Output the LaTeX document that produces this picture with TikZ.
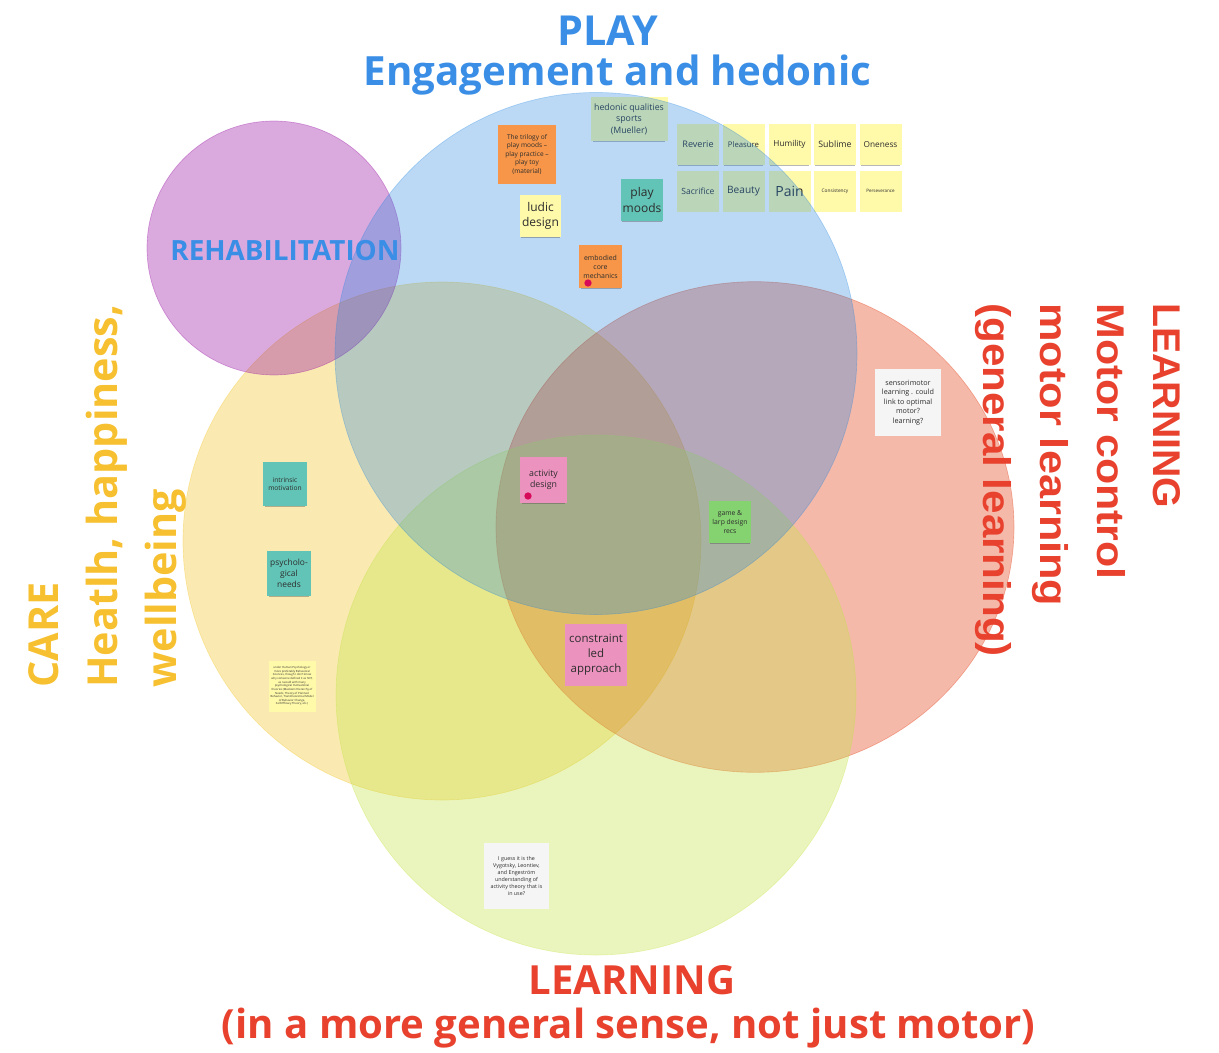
\documentclass[tikz,border=0pt]{standalone}
\usepackage{fontspec}
\setmainfont{Open Sans}
\newfontfamily\arialfam{Liberation Sans}
\usetikzlibrary{shadows}

% circle colours (drawn semi-transparent)
\definecolor{cblue}{RGB}{30,130,222}
\definecolor{cyellow}{RGB}{241,195,35}
\definecolor{cred}{RGB}{226,55,12}
\definecolor{cgreen}{RGB}{195,227,69}
\definecolor{cpurple}{RGB}{149,12,161}
% text colours
\definecolor{tblue}{RGB}{58,142,230}
\definecolor{tyellow}{RGB}{246,192,48}
\definecolor{tred}{RGB}{232,66,46}
\definecolor{notetext}{RGB}{45,45,45}
% sticky note colours
\definecolor{nyellow}{RGB}{255,249,170}
\definecolor{norange}{RGB}{247,150,72}
\definecolor{nteal}{RGB}{98,196,182}
\definecolor{npink}{RGB}{236,146,190}
\definecolor{ngreen}{RGB}{133,210,112}
\definecolor{nwhite}{RGB}{245,245,245}
\definecolor{dotred}{RGB}{215,10,90}

\tikzset{
  zone/.style={fill=#1, fill opacity=0.35, draw=#1, draw opacity=0.35, line width=0.5pt},
  note/.style={fill=#1, inner sep=1pt, align=center, text=notetext,
    drop shadow={shadow xshift=0pt, shadow yshift=-1.8pt, shadow scale=0.93, opacity=0.4, fill=black!70}},
  sz/.style 2 args={minimum width=#1*0.75pt, minimum height=#2*0.75pt},
  fs/.style={font=\linespread{1.3}\fontsize{#1}{#1}\selectfont},
  dot/.style={circle, fill=dotred, inner sep=0pt, minimum size=5.5pt},
  bigtitle/.style={font=\bfseries\fontsize{31}{36}\selectfont, inner sep=0pt},
  sidetitle/.style={font=\arialfam\bfseries\fontsize{29}{34}\selectfont, text=tred, inner sep=0pt},
}

\begin{document}
\begin{tikzpicture}[x=0.75pt,y=-0.75pt]
\useasboundingbox (0,0) rectangle (1219,1052);

% ---- lower circles ----
\path[zone=cyellow] (442,541) circle [radius=194.25pt];
\path[zone=cred] (755,527) ellipse [x radius=194.25pt, y radius=184pt];
\path[zone=cgreen] (596,695) circle [radius=195pt];
\path[zone=cpurple] (274,248) circle [radius=95.25pt];

% ---- notes lying under the PLAY circle ----
\node[note=nyellow, sz={77}{44}, fs=6.6] (hed) at (629,119) {hedonic qualities\\sports\\(Mueller)};

\node[note=nyellow, sz={42}{41}, fs=6.8] (g11) at (698,144.5) {Reverie};
\node[note=nyellow, sz={42}{41}, fs=5.8] (g12) at (743.5,144.5) {Pleasure};
\node[note=nyellow, sz={42}{41}, fs=6.2] (g13) at (789.5,144.5) {Humility};
\node[note=nyellow, sz={42}{41}, fs=6.6] (g14) at (835,144.5) {Sublime};
\node[note=nyellow, sz={42}{41}, fs=6.2] (g15) at (880.5,144.5) {Oneness};
\node[note=nyellow, sz={42}{41}, fs=6.4] (g21) at (698,191) {Sacrifice};
\node[note=nyellow, sz={42}{41}, fs=7.6] (g22) at (743.5,191) {Beauty};
\node[note=nyellow, sz={42}{41}, fs=10.5] (g23) at (789.5,191) {Pain};
\node[note=nyellow, sz={42}{41}, fs=3.6] (g24) at (835,191) {Consistency};
\node[note=nyellow, sz={42}{41}, fs=3.4] (g25) at (880.5,191) {Perseverance};

% ---- PLAY circle ----
\path[zone=cblue, fill opacity=0.3, draw opacity=0.3] (596,353.5) ellipse [x radius=195.75pt, y radius=195.75pt];

% ---- notes on top ----
\node[note=norange, sz={58}{59}, fs=4.9] (tri) at (527,154.5) {The trilogy of\\play moods --\\play practice --\\play toy\\(material)};
\node[note=nyellow, sz={41}{42}, fs=9] (ludic) at (540.5,216) {ludic\\design};
\node[note=nteal, sz={42}{42}, fs=9] (moods) at (642,200) {play\\moods};
\node[note=norange, sz={43}{43}, fs=5.2] (emb) at (600.5,266.5) {embodied\\core\\mechanics};
\node[dot] (embdot) at (588,283) {};

\node[note=nwhite, sz={66}{67}, fs=5.4] (sens) at (908,402.5) {sensorimotor\\learning . could\\link to optimal\\motor?\\learning?};

\node[note=nteal, sz={44}{44}, fs=5] (intr) at (285,484) {intrinsic\\motivation};
\node[note=nteal, sz={44}{45}, fs=6.3] (psy) at (289,573.5) {psycholo-\\gical\\needs};

\node[note=nyellow, sz={47}{51}, font=\linespread{1.3}\fontsize{2.1}{2.1}\selectfont] (sdt) at (292,686) {under Human Psychology or\\more preferably Behavioral\\Sciences, though I don't know\\why someone defined it as SDT,\\as I would with many\\psychological motivational\\theories (Maslow's Hierarchy of\\Needs, Theory of Planned\\Behavior, Transtheoretical Model\\of Behavior Change,\\Self-Efficacy Theory, etc.)};

\node[note=npink, sz={47}{46}, fs=6.6] (act) at (543.5,480) {activity\\design};
\node[dot] (actdot) at (528,496) {};

\node[note=ngreen, sz={42}{42}, fs=5.1] (game) at (730,522) {game \&\\larp design\\recs};

\node[note=npink, sz={62}{62}, fs=8.6] (cla) at (596,655) {constraint\\led\\approach};

\node[note=nwhite, sz={65}{66}, fs=4] (vyg) at (516.5,876) {I guess it is the\\Vygotsky, Leontiev,\\and Engestr\"om\\understanding of\\activity theory that is\\in use?};

% ---- headings ----
\node[bigtitle, text=tblue, anchor=base] (play) at (608,46) {PLAY};
\node[bigtitle, font=\bfseries\fontsize{30.2}{36}\selectfont, text=tblue, anchor=base] (eng) at (617.5,86) {Engagement and hedonic};

\node[font=\bfseries\fontsize{20.9}{24}\selectfont, text=tblue, inner sep=0pt, anchor=base] (rehab) at (285,260) {REHABILITATION};

\node[bigtitle, text=tyellow, rotate=90, anchor=base west] (care) at (58,688) {CARE};
\node[bigtitle, text=tyellow, rotate=90, anchor=base west] (care2) at (117,688) {Heatlh, happiness,};
\node[bigtitle, text=tyellow, rotate=90, anchor=base west] (care3) at (176,688) {wellbeing};

\node[sidetitle, rotate=-90, xscale=1.015, anchor=base west] (lm1) at (1153,303) {LEARNING};
\node[sidetitle, rotate=-90, xscale=1.11, anchor=base west] (lm2) at (1097,303) {Motor control};
\node[sidetitle, rotate=-90, xscale=1.12, anchor=base west] (lm3) at (1040,303) {motor learning};
\node[sidetitle, rotate=-90, xscale=1.09, anchor=base west] (lm4) at (983,303) {(general learning)};

\node[bigtitle, font=\bfseries\fontsize{30.1}{36}\selectfont, text=tred, anchor=base] (lg1) at (632,994) {LEARNING};
\node[bigtitle, font=\bfseries\fontsize{30.1}{36}\selectfont, text=tred, anchor=base] (lg2) at (628.5,1038) {(in a more general sense, not just motor)};

\end{tikzpicture}
\end{document}
